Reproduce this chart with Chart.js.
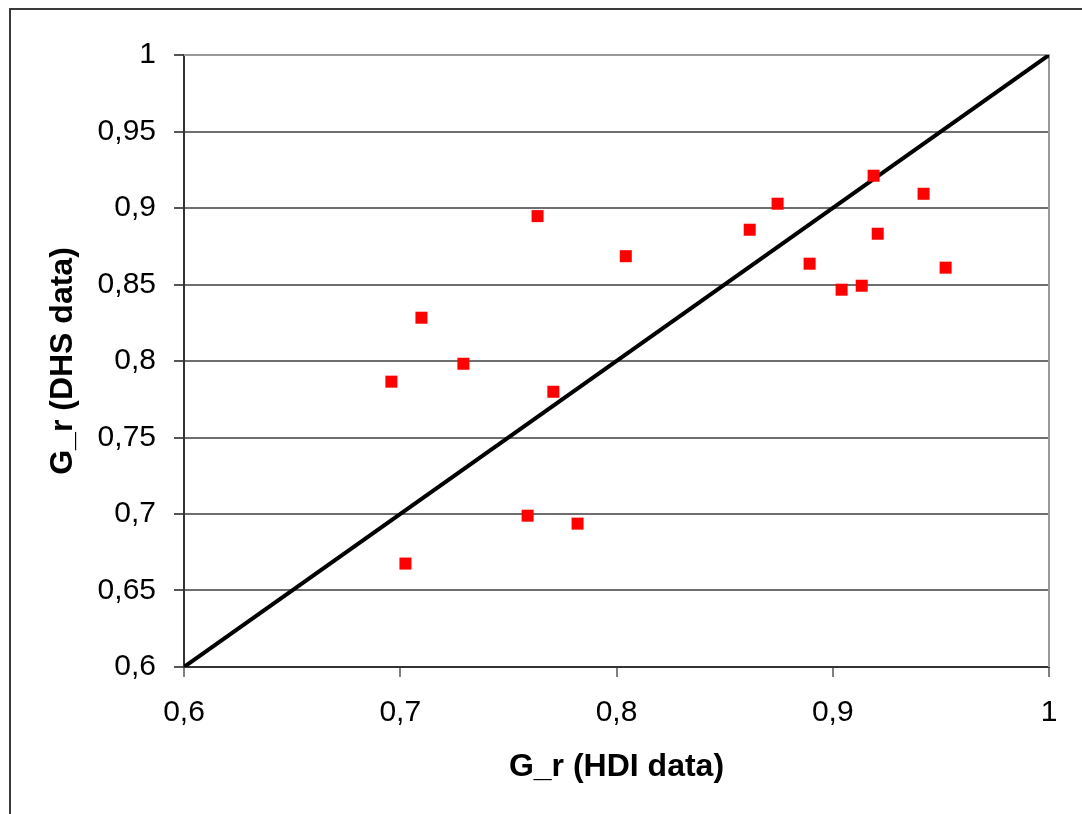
<!DOCTYPE html>
<html>
<head>
<meta charset="utf-8">
<title>G_r HDI vs DHS</title>
<script src="https://cdn.jsdelivr.net/npm/chart.js@4"></script>
<style>
  html, body { margin: 0; padding: 0; background: #fff; }
  canvas { display: block; }
</style>
</head>
<body>
<canvas id="chart" width="1082" height="814"></canvas>
<script>
// values
const hdiValues = [0.6959, 0.7098, 0.7292, 0.7024, 0.7589, 0.7635, 0.7708, 0.7820, 0.8043,
  0.8616, 0.8745, 0.8893, 0.9041, 0.9134, 0.9189, 0.9208, 0.9420, 0.9522];
const dhsValues = [0.7865, 0.8283, 0.7982, 0.6676, 0.6989, 0.8947, 0.7799, 0.6937, 0.8685,
  0.8858, 0.9028, 0.8636, 0.8466, 0.8492, 0.9211, 0.8832, 0.9093, 0.8610];
const diagonalLine = [0.6, 1];
const xTickValues = [0.6, 0.7, 0.8, 0.9, 1];
const yTickValues = [0.6, 0.65, 0.7, 0.75, 0.8, 0.85, 0.9, 0.95, 1];

const fontFamily = "'Liberation Sans', Arial, sans-serif";

function commaLabel(value) {
  return String(Number(value.toFixed(2))).replace(".", ",");
}

const frames = {
  id: "frames",
  beforeDraw(chart) {
    const ctx = chart.ctx;
    ctx.save();
    ctx.fillStyle = "#fff";
    ctx.fillRect(0, 0, chart.width, chart.height);
    ctx.strokeStyle = "#3a3a3a";
    ctx.lineWidth = 2;
    ctx.strokeRect(10, 9, chart.width + 20, chart.height + 20);
    ctx.restore();
  },
  beforeDatasetsDraw(chart) {
    const { ctx, chartArea } = chart;
    ctx.save();
    ctx.strokeStyle = "#9a9a9a";
    ctx.lineWidth = 2;
    ctx.beginPath();
    ctx.moveTo(chartArea.left, chartArea.top);
    ctx.lineTo(chartArea.right, chartArea.top);
    ctx.lineTo(chartArea.right, chartArea.bottom);
    ctx.stroke();
    ctx.restore();
  },
};

new Chart(document.getElementById("chart"), {
  type: "scatter",
  data: {
    datasets: [
      {
        label: "G_r",
        data: hdiValues.map((x, i) => ({ x, y: dhsValues[i] })),
        pointStyle: "rect",
        pointRadius: 8.5,
        backgroundColor: "#ff0000",
        borderWidth: 0,
      },
      {
        type: "line",
        label: "y = x",
        data: diagonalLine.map((v) => ({ x: v, y: v })),
        borderColor: "#000",
        borderWidth: 4,
        pointRadius: 0,
        fill: false,
      },
    ],
  },
  options: {
    responsive: false,
    animation: false,
    devicePixelRatio: 1,
    layout: { padding: { left: 0, right: 33, top: 55, bottom: 0 } },
    plugins: { legend: { display: false }, tooltip: { enabled: false } },
    scales: {
      x: {
        type: "linear",
        min: 0.6,
        max: 1,
        afterBuildTicks: (scale) => { scale.ticks = xTickValues.map((value) => ({ value })); },
        afterFit: (scale) => { scale.height = 147; },
        grid: { drawOnChartArea: false, drawTicks: true, tickLength: 10, color: "#808080", lineWidth: 2 },
        border: { color: "#333", width: 2 },
        ticks: {
          padding: 18,
          color: "#000",
          font: { family: fontFamily, size: 30 },
          callback: (value) => commaLabel(value),
          maxRotation: 0,
        },
        title: {
          display: true,
          text: "G_r (HDI data)",
          color: "#000",
          font: { family: fontFamily, size: 32, weight: "bold" },
          padding: { top: 0, bottom: 28 },
        },
      },
      y: {
        type: "linear",
        min: 0.6,
        max: 1,
        afterBuildTicks: (scale) => { scale.ticks = yTickValues.map((value) => ({ value })); },
        afterFit: (scale) => { scale.width = 184; },
        grid: {
          drawTicks: true,
          tickLength: 10,
          lineWidth: 2,
          color: (ctx) => (ctx.tick && ctx.tick.value === 1 ? "#9a9a9a" : "#6e6e6e"),
          tickColor: "#555",
        },
        border: { color: "#333", width: 2 },
        ticks: {
          padding: 18,
          color: "#000",
          font: { family: fontFamily, size: 30 },
          callback: (value) => commaLabel(value),
        },
        title: {
          display: true,
          text: "G_r (DHS data)",
          color: "#000",
          font: { family: fontFamily, size: 32, weight: "bold" },
          padding: { top: 44, bottom: 0 },
        },
      },
    },
  },
  plugins: [frames],
});
</script>
</body>
</html>
